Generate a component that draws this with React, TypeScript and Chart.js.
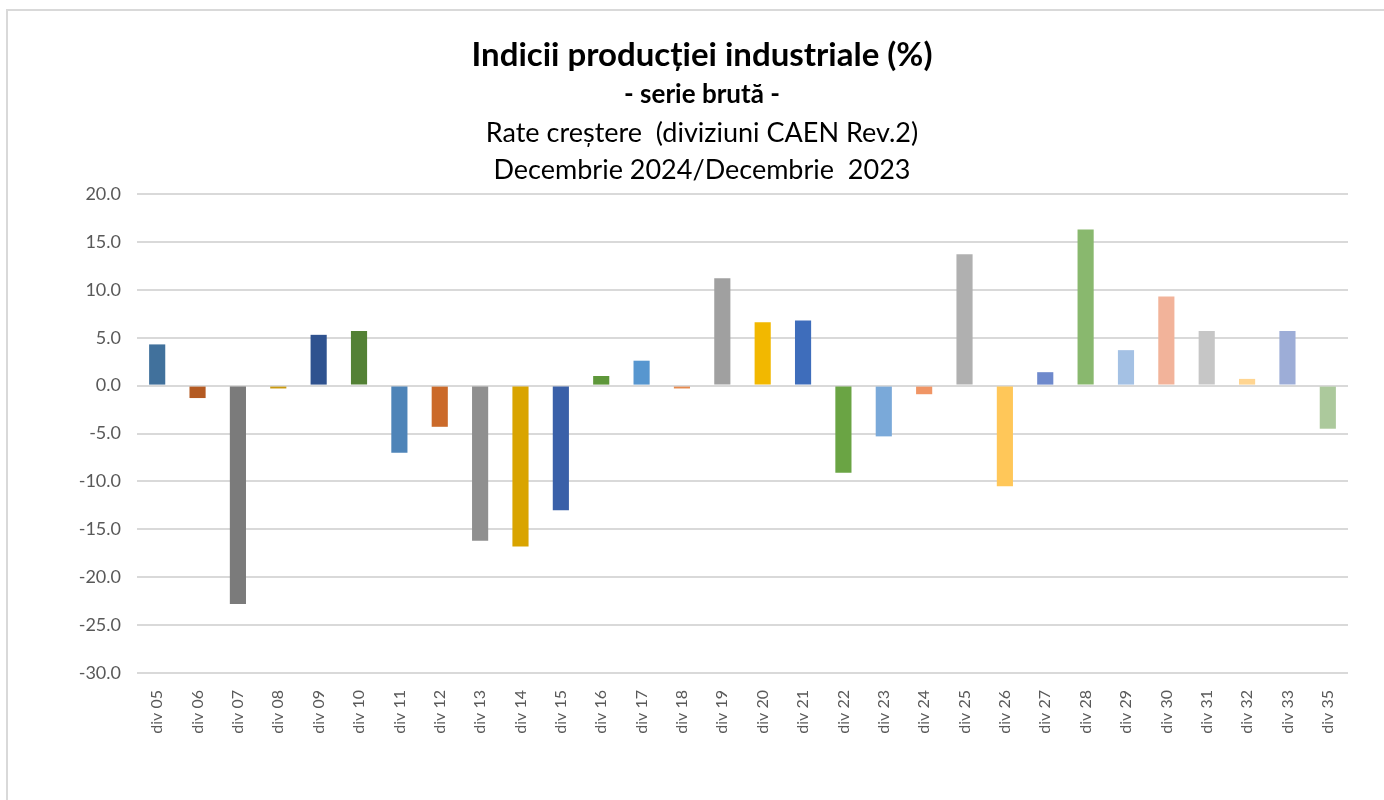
import React, { useEffect, useRef } from "react";
import { Chart, registerables } from "chart.js";

Chart.register(...registerables);

const categories = [
  "div 05", "div 06", "div 07", "div 08", "div 09", "div 10", "div 11", "div 12", "div 13", "div 14",
  "div 15", "div 16", "div 17", "div 18", "div 19", "div 20", "div 21", "div 22", "div 23", "div 24",
  "div 25", "div 26", "div 27", "div 28", "div 29", "div 30", "div 31", "div 32", "div 33", "div 35",
];

const growthRates = [
  4.3, -1.3, -22.8, -0.3, 5.3, 5.7, -7.0, -4.3, -16.2, -16.8,
  -13.0, 1.0, 2.6, -0.3, 11.2, 6.6, 6.8, -9.1, -5.3, -0.9,
  13.7, -10.5, 1.4, 16.3, 3.7, 9.3, 5.7, 0.7, 5.7, -4.5,
];

const barColors = [
  "#41719c", "#b45a22", "#7b7b7b", "#c99a10", "#2f528f", "#538135", "#4e84b8", "#cb6a2a", "#8f8f8f", "#d9a400",
  "#3a60a8", "#5e973a", "#5796cf", "#e68a4f", "#a0a0a0", "#f2b800", "#3e6dbb", "#6aa444", "#7aa9d9", "#f09565",
  "#b0b0b0", "#ffc759", "#6e89cc", "#89b86e", "#a4c1e4", "#f2b39a", "#c6c6c6", "#ffd591", "#9dadd7", "#acc99c",
];

const titleLines = [
  "Indicii producției industriale (%)",
  "- serie brută -",
  "Rate creștere  (diviziuni CAEN Rev.2)",
  "Decembrie 2024/Decembrie  2023",
];

const yMin = -30;
const yMax = 20;
const yStep = 5;

const FONT = "Lato, 'Open Sans', sans-serif";

const titlePlugin = {
  id: "multiTitle",
  afterDraw(chart: any) {
    const ctx = chart.ctx;
    const cx = 702;
    const specs = [
      { font: `bold 33px ${FONT}`, y: 55 },
      { font: `bold 26px ${FONT}`, y: 95 },
      { font: `27px ${FONT}`, y: 133 },
      { font: `27px ${FONT}`, y: 170 },
    ];
    ctx.save();
    ctx.fillStyle = "#000000";
    ctx.textAlign = "center";
    ctx.textBaseline = "middle";
    titleLines.forEach((line, i) => {
      ctx.font = specs[i].font;
      ctx.fillText(line, cx, specs[i].y);
    });
    ctx.restore();
  },
};

export default function App() {
  const canvasRef = useRef<HTMLCanvasElement | null>(null);

  useEffect(() => {
    if (!canvasRef.current) return;
    const chart = new Chart(canvasRef.current, {
      type: "bar",
      data: {
        labels: categories,
        datasets: [
          {
            data: growthRates,
            backgroundColor: barColors,
            borderWidth: 0,
            barPercentage: 0.4,
            categoryPercentage: 1,
          },
        ],
      },
      plugins: [titlePlugin],
      options: {
        animation: false,
        responsive: false,
        maintainAspectRatio: false,
        layout: { padding: { left: 20, right: 36, top: 194, bottom: 0 } },
        plugins: {
          legend: { display: false },
          tooltip: { enabled: false },
          title: { display: false },
        },
        scales: {
          x: {
            grid: { display: false, drawTicks: false },
            border: { display: false },
            ticks: {
              color: "#595959",
              font: { family: FONT, size: 16 },
              maxRotation: 90,
              minRotation: 90,
              autoSkip: false,
              padding: 17,
            },
            afterFit(scale: any) {
              scale.height = 127;
            },
          },
          y: {
            min: yMin,
            max: yMax,
            grid: { color: "#d9d9d9", lineWidth: 2, drawTicks: false },
            border: { display: false },
            ticks: {
              stepSize: yStep,
              color: "#595959",
              font: { family: FONT, size: 18 },
              padding: 16,
              callback: (v: any) => Number(v).toFixed(1),
            },
            afterFit(scale: any) {
              scale.width = 117;
            },
          },
        },
      },
    });
    return () => chart.destroy();
  }, []);

  return (
    <div style={{ position: "fixed", left: 0, top: 0, width: 1384, height: 800, overflow: "hidden", background: "#fff" }}>
      <div
        style={{
          position: "absolute",
          left: 6,
          top: 9,
          width: 1400,
          height: 820,
          borderTop: "2px solid #d9d9d9",
          borderLeft: "2px solid #d9d9d9",
        }}
      />
      <canvas ref={canvasRef} width={1384} height={800} style={{ position: "absolute", left: 0, top: 0 }} />
    </div>
  );
}
